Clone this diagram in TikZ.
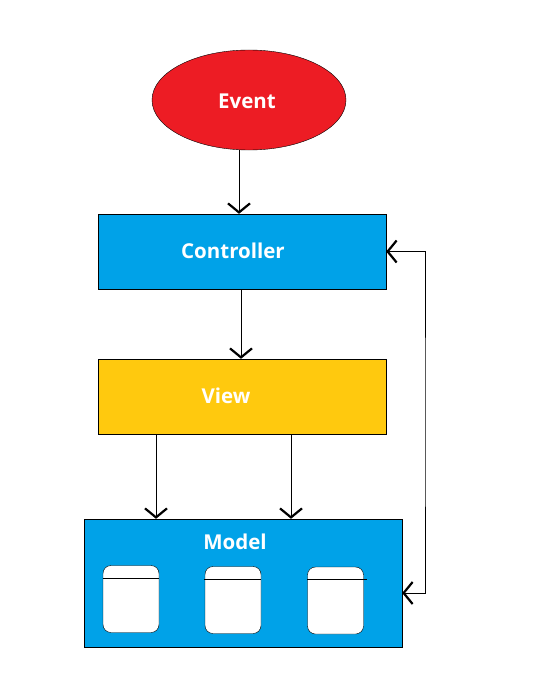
\documentclass[tikz,border=0pt]{standalone}
\usepackage{fontspec}
\setmainfont{Open Sans}
\usetikzlibrary{shapes.geometric,arrows.meta,calc}
\definecolor{evred}{HTML}{ED1C24}
\definecolor{ctblue}{HTML}{00A2E8}
\definecolor{vwyellow}{HTML}{FFC90E}
\tikzset{
  barb/.tip = {Straight Barb[length=9pt, width=22pt, line width=2.2pt]},
}

\begin{document}
\begin{tikzpicture}
  [
    x=1pt, y=-1pt,
    block/.style =
      {draw, rectangle, inner sep=0pt, minimum width=288pt, minimum height=75pt},
    cell/.style =
      {draw, rectangle, rounded corners=8pt, fill=white, inner sep=0pt,
       minimum width=56pt, minimum height=67pt},
    lbl/.style =
      {text=white, font=\fontsize{20.5}{22}\selectfont\bfseries}
  ]
  \useasboundingbox (0,0) rectangle (547,698);

  \node [draw, ellipse, fill=evred, minimum width=194pt, minimum height=100pt]
        at (249,100) (e) {};
  \node [block, fill=ctblue]   at (242,251.5) (c) {};
  \node [block, fill=vwyellow] at (242,396.5) (v) {};
  \node [block, fill=ctblue, minimum width=318pt, minimum height=128pt]
        at (243,583) (m) {};

  \node [cell] at (131,599) (m1) {};
  \node [cell] at (233,600) (m2) {};
  \node [cell] at (335.5,600.5) (m3) {};
  \draw ($(m1.west)+(0,-21)$) -- ($(m1.east)+(0,-21)$);
  \draw ($(m2.west)+(-1,-21)$) -- ($(m2.east)+(0,-21)$);
  \draw ($(m3.west)+(0,-21)$) -- ($(m3.east)+(3,-21)$);

  \node [lbl] at (247,101) (te) {Event};
  \node [lbl] at (233,251) (tc) {Controller};
  \node [lbl] at (226,396) (tv) {View};
  \node [lbl] at (235,542) (tm) {Model};

  \draw[-barb] ($(e.south)+(-10,0)$) -- ($(c.north)+(-3,0)$);
  \draw[-barb] ($(c.south)+(-1,0)$)  -- ($(v.north)+(-1,0)$);
  \draw[-barb] ($(v.south)+(-86,0)$) -- ($(m.north)+(-87,0)$);
  \draw[-barb] ($(v.south)+(49,0)$)  -- ($(m.north)+(48,0)$);

  \coordinate (k) at (425,422);
  \draw[barb-barb] ($(m.east)+(0,10)$) -| (k) |- (c.east);

\end{tikzpicture}
\end{document}
